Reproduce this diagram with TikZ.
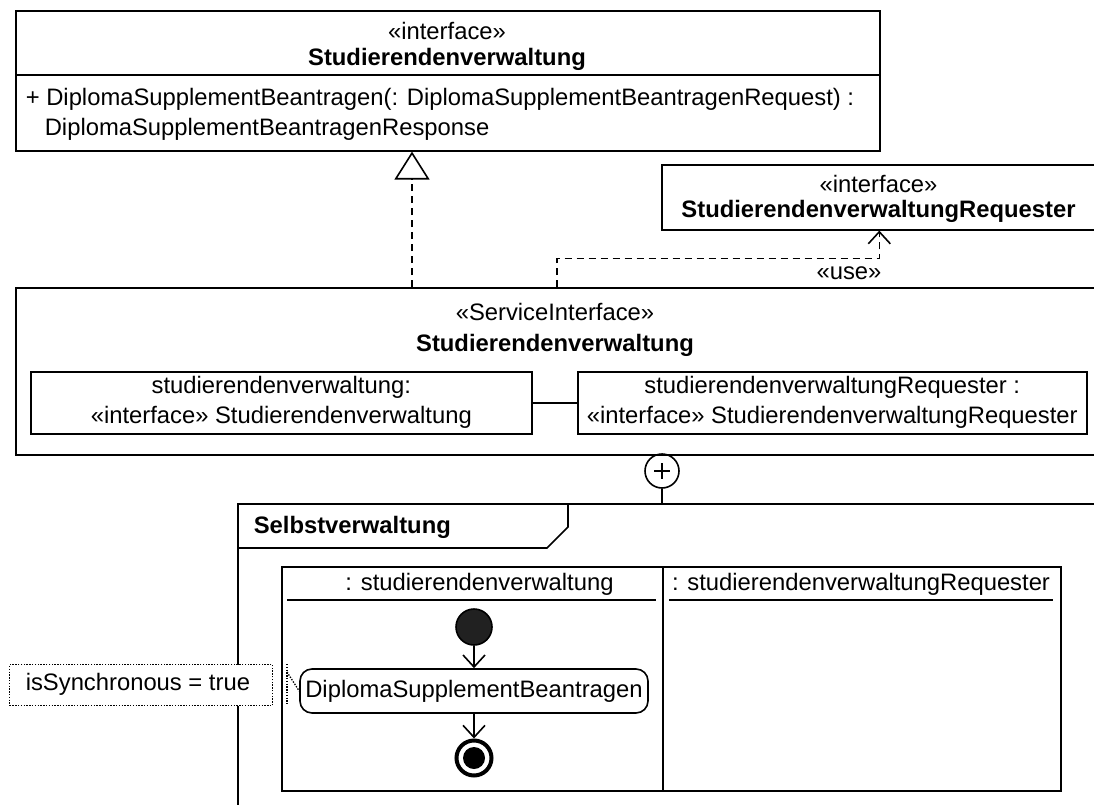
\documentclass[tikz,border=0pt]{standalone}
\usepackage{fontspec}
\setmainfont{Liberation Sans}
\usetikzlibrary{arrows.meta}
\begin{document}
\begin{tikzpicture}[x=1pt,y=-1pt,line width=1.6pt,
  every node/.style={font=\fontsize{23.8}{30}\selectfont,inner sep=0pt},
  shapebox/.style={draw,anchor=north west,minimum width=#1},
  lbl/.style={},
  bold/.style={font=\fontsize{23.8}{30}\selectfont\bfseries},
  dashpat/.style={dash pattern=on 7pt off 5pt},
  dotpat/.style={line width=1.3pt,dash pattern=on 1.4pt off 1.4pt},
  flow/.style={-{Straight Barb[length=12pt,width=22pt,line width=1.6pt]}}
]
\useasboundingbox (0,0) rectangle (1094,805);

% top interface
\node[shapebox=864pt,minimum height=140pt] (iface) at (15,10) {};
\draw (15,75) -- (879,75);
\node (ifst) at (447,31) {«interface»};
\node[bold] (ifname) at (447,59) {Studierendenverwaltung};
\node[anchor=west] (op1) at (25,99) {+ DiplomaSupplementBeantragen(: DiplomaSupplementBeantragenRequest) :};
\node[anchor=west] (op2) at (44,129) {DiplomaSupplementBeantragenResponse};

% requester interface
\node[shapebox=435pt,minimum height=65pt] (req) at (661,164) {};
\node (reqst) at (878.5,184) {«interface»};
\node[bold] (reqname) at (878.5,211) {StudierendenverwaltungRequester};

% service interface
\node[shapebox=1081pt,minimum height=167pt] (si) at (15,287) {};
\node (sist) at (555,312) {«ServiceInterface»};
\node[bold] (siname) at (555,345) {Studierendenverwaltung};
\node[shapebox=501pt,minimum height=62pt,align=center] (p1) at (30,371) {};
\node[align=center] (p1t) at (p1.center) {studierendenverwaltung:\\«interface» Studierendenverwaltung};
\node[shapebox=509pt,minimum height=62pt] (p2) at (577,371) {};
\node[align=center] (p2t) at (p2.center) {studierendenverwaltungRequester :\\«interface» StudierendenverwaltungRequester};
\draw (p1.east) -- (p2.west);

% generalization
\coordinate (gs) at (412,287);
\draw[dashpat] (gs) -- (412,179);
\draw[-{Triangle[open,length=28pt,width=35pt,line width=1.6pt]}] (412,180) -- (gs |- iface.south);

% use dependency
\coordinate (us) at (557,287);
\draw[dashpat,-{Straight Barb[length=12pt,width=22pt,line width=1.6pt]}] (us) |- ([yshift=-28pt]req.south) -- (req.south);
\node (use) at (849,273) {«use»};

% nesting
\node[draw,circle,minimum size=34pt] (plus) at (662,471) {};
\draw (plus.center) ++(-8,0) -- ++(16,0);
\draw (plus.center) ++(0,-8) -- ++(0,16);

% frame
\node[shapebox=900pt,minimum height=400pt] (frame) at (237,503) {};
\draw (plus.south) -- (plus.south |- frame.north);
\draw (237,548) -- (547,548) -- (568,527) -- (568,503);
\node[bold,anchor=west] (ftitle) at (253,527) {Selbstverwaltung};

% partitions
\node[shapebox=779pt,minimum height=224pt] (part) at (281,566) {};
\draw (663,566) -- (663,790);
\node (h1) at (479.5,584) {: studierendenverwaltung};
\node (h2) at (861,584) {: studierendenverwaltungRequester};
\draw (287,600) -- (656,600);
\draw (669,600) -- (1053,600);

% activity
\node[circle,draw,fill=black!87,minimum size=36pt] (init) at (474,627) {};
\node[draw,rounded corners=12pt,minimum width=348pt,minimum height=44pt] (act) at (474,691) {DiplomaSupplementBeantragen};
\node[circle,draw,line width=4pt,minimum size=35pt] (fin) at (474,758) {};
\node[circle,fill=black,minimum size=22pt] (finin) at (fin.center) {};
\draw[flow] (init) -- (act);
\draw[flow] (act) -- (fin);

% note
\node[draw,dotpat,fill=white,anchor=north west,minimum width=263pt,minimum height=41pt] (note) at (9,664) {};
\node[anchor=west] (notet) at (25,684.5) {isSynchronous = true};
\coordinate (na) at (287,664);
\coordinate (nb) at (287,704);
\coordinate (nc) at (287,672);
\draw[dotpat] (na) -- (nb);
\draw[dotpat] (nc) -- (act.west);
\end{tikzpicture}
\end{document}
